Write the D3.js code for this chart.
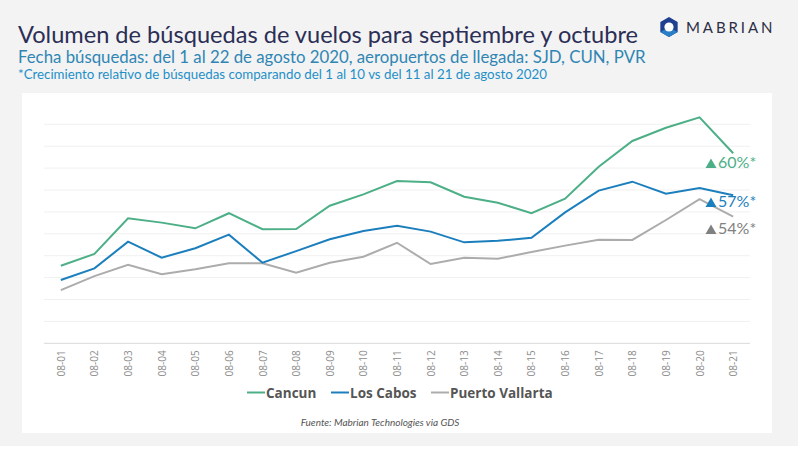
<!DOCTYPE html>
<html>
<head>
<meta charset="utf-8">
<script src="https://cdn.jsdelivr.net/npm/d3@7"></script>
<style>
  body { margin: 0; background: #fff; }
  svg { display: block; }
</style>
</head>
<body>
<div id="chart"></div>
<script>
// data (grid units, 10 per gridline)
var days = ["08-01","08-02","08-03","08-04","08-05","08-06","08-07","08-08","08-09","08-10","08-11",
            "08-12","08-13","08-14","08-15","08-16","08-17","08-18","08-19","08-20","08-21"];
var cancun = [35.4,40.8,57.1,55.1,52.5,59.4,52.1,52.2,62.8,68.0,74.1,73.5,66.9,64.2,59.4,66.0,80.6,92.4,98.4,103.2,86.8];
var losCabos = [28.9,34.2,46.4,39.1,43.4,49.6,36.8,42.1,47.5,51.3,53.7,51.0,46.1,46.8,48.2,59.8,69.7,73.8,68.3,70.9,67.6];
var vallarta = [24.3,30.7,35.9,31.5,33.8,36.5,36.5,32.2,36.8,39.5,45.9,36.2,39.1,38.6,41.7,44.6,47.3,47.2,56.3,65.8,57.8];
var seriesNames = ["Cancun", "Los Cabos", "Puerto Vallarta"];
var growthLabels = ["60%*", "57%*", "54%*"];
var yTicks = [0,10,20,30,40,50,60,70,80,90,100];

var width = 798, height = 473
  , svg = d3.select("#chart").append("svg").attr("width", width).attr("height", height)
      .style("font-family", "Lato, 'Open Sans', sans-serif");

// background + card
svg.append("rect").attr("width", width).attr("height", 446).attr("fill", "#f3f3f3");
svg.append("rect").attr("x", 22).attr("y", 93).attr("width", 750).attr("height", 340).attr("fill", "#fff");

// titles
svg.append("text").attr("x", 18).attr("y", 43).attr("fill", "#2b2e55")
   .style("font-size", "23.6px").text("Volumen de búsquedas de vuelos para septiembre y octubre");
svg.append("text").attr("x", 18).attr("y", 63).attr("fill", "#2f86b4")
   .style("font-size", "16.8px").text("Fecha búsquedas: del 1 al 22 de agosto 2020, aeropuertos de llegada: SJD, CUN, PVR");
svg.append("text").attr("x", 18).attr("y", 79).attr("fill", "#1e90c8")
   .style("font-size", "13.3px").text("*Crecimiento relativo de búsquedas comparando del 1 al 10 vs del 11 al 21 de agosto 2020");

// logo
var logo = svg.append("g").attr("transform", "translate(669,27)");
var hex = d3.range(6).map(function (i) { var a = Math.PI / 3 * i + Math.PI / 6; return [10 * Math.cos(a), 10 * Math.sin(a)]; });
logo.append("path").attr("d", "M" + hex.join("L") + "Z").attr("fill", "#1f3f8f");
logo.append("path").attr("d", "M" + hex.slice(0, 3).join("L") + "L0,0Z").attr("fill", "#2a7fc6");
logo.append("circle").attr("r", 4.6).attr("fill", "#fff");
svg.append("text").attr("x", 686).attr("y", 33).attr("fill", "#2b2e45")
   .style("font-size", "15px").style("letter-spacing", "2.9px").text("MABRIAN");

// scales
var x = d3.scalePoint().domain(days).range([44, 750]).padding(0.5)
  , y = d3.scaleLinear().domain([0, 100]).range([343.3, 124.3]);

var g = svg.append("g");
g.selectAll(".grid").data(yTicks).enter().append("line")
  .attr("x1", 44).attr("x2", 750).attr("y1", y).attr("y2", y)
  .attr("stroke", function (d) { return d === 0 ? "#d9d9d9" : "#f0f0f0"; }).attr("stroke-width", 1);

var xAxis = g.append("g").attr("transform", "translate(0,343.3)")
  .call(d3.axisBottom(x).tickSize(0).tickPadding(0));
xAxis.select(".domain").remove();
xAxis.selectAll("text")
  .attr("transform", "translate(0,7) rotate(-90)").attr("dy", "0.35em").attr("x", 0).attr("y", 0)
  .attr("text-anchor", "end").attr("fill", "#8c8c8c").style("font-size", "10px")
  .style("font-family", "'Open Sans', sans-serif");

var colors = ["#4daf87", "#1c7fbd", "#acacac"]
  , labelColors = ["#4daf87", "#1c7fbd", "#808080"];

var line = d3.line().x(function (d, i) { return x(days[i]); }).y(function (d) { return y(d); });
g.selectAll(".series").data([vallarta, losCabos, cancun]).enter().append("path")
  .attr("d", line).attr("fill", "none")
  .attr("stroke", function (d, i) { return colors[2 - i]; }).attr("stroke-width", 2);

// growth labels
var labelY = [168, 207, 234];
growthLabels.forEach(function (t, i) {
  var lg = g.append("g").attr("transform", "translate(711," + labelY[i] + ")");
  lg.append("path").attr("d", "M-5.5,0L0,-9.5L5.5,0Z").attr("fill", labelColors[i]);
  lg.append("text").attr("x", 7).attr("fill", labelColors[i]).style("font-size", "16px").text(t);
});

// legend
var legX = [247, 331, 431];
seriesNames.forEach(function (n, i) {
  svg.append("line").attr("x1", legX[i]).attr("x2", legX[i] + 18).attr("y1", 392.5).attr("y2", 392.5)
    .attr("stroke", colors[i]).attr("stroke-width", 2);
  svg.append("text").attr("x", legX[i] + 19).attr("y", 397.5).attr("fill", "#555")
    .style("font-size", "13.5px").style("font-weight", "bold")
    .style("font-family", "'Open Sans', sans-serif").text(n);
});

svg.append("text").attr("x", 380).attr("y", 426).attr("text-anchor", "middle").attr("fill", "#555")
  .style("font-size", "10px").style("font-style", "italic").text("Fuente: Mabrian Technologies via GDS");
</script>
</body>
</html>
